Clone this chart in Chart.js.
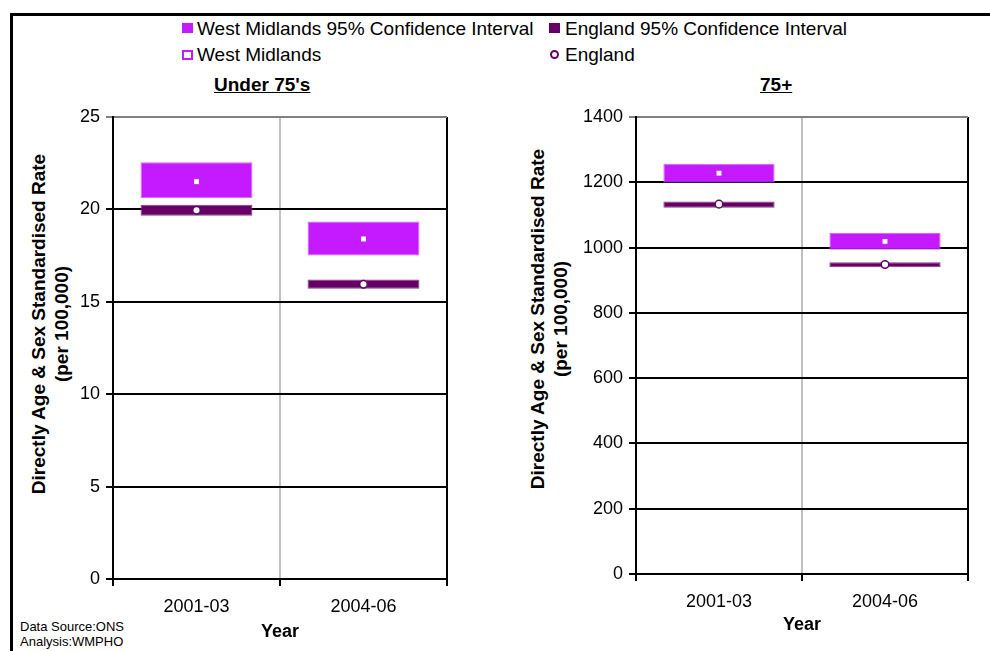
<!DOCTYPE html>
<html>
<head>
<meta charset="utf-8">
<script src="https://cdn.jsdelivr.net/npm/chart.js@4/dist/chart.umd.min.js"></script>
<style>
  html, body { margin: 0; padding: 0; background: #fff; }
  body { width: 990px; height: 651px; position: relative; overflow: hidden;
         font-family: "Liberation Sans", Arial, sans-serif; color: #000; }
  .frame { position: absolute; left: 10px; top: 13px; width: 990px; height: 660px;
           border-top: 3px solid #000; border-left: 3px solid #000; box-sizing: border-box; }
  .abs { position: absolute; white-space: nowrap; }
  .leg { font-size: 19px; line-height: 22px; }
  .sw { position: absolute; width: 11px; height: 10px; box-sizing: border-box; }
  .ttl { font-size: 19px; line-height: 22px; font-weight: bold; text-decoration: underline; }
  .ytitle { font-size: 19px; font-weight: bold; line-height: 23px; text-align: center;
            transform: translate(-50%, -50%) rotate(-90deg); }
  .src { font-size: 13px; line-height: 15px; }
  canvas { position: absolute; }
</style>
</head>
<body>
<div class="frame"></div>

<!-- legend -->
<div class="sw" style="left:182px;top:23px;background:#C51AFF;"></div>
<div class="abs leg" style="left:197px;top:18px;">West Midlands 95% Confidence Interval</div>
<div class="sw" style="left:549px;top:23px;background:#660066;"></div>
<div class="abs leg" style="left:565px;top:18px;">England 95% Confidence Interval</div>
<div class="sw" style="left:182px;top:50px;border:2px solid #C51AFF;background:#fff;"></div>
<div class="abs leg" style="left:197px;top:44px;">West Midlands</div>
<div class="sw" style="left:550px;top:50px;width:9px;height:9px;border:2px solid #660066;border-radius:50%;background:#fff;"></div>
<div class="abs leg" style="left:565px;top:44px;">England</div>

<!-- panel titles -->
<div class="abs ttl" style="left:214px;top:74px;">Under 75's</div>
<div class="abs ttl" style="left:760px;top:74px;">75+</div>

<!-- y axis titles -->
<div class="abs ytitle" style="left:50px;top:324px;">Directly Age &amp; Sex Standardised Rate<br>(per 100,000)</div>
<div class="abs ytitle" style="left:549px;top:319px;">Directly Age &amp; Sex Standardised Rate<br>(per 100,000)</div>

<div class="abs src" style="left:20px;top:619px;">Data Source:ONS<br>Analysis:WMPHO</div>

<canvas id="under75" width="460" height="545" style="left:14px;top:100px;width:460px;height:545px;"></canvas>
<canvas id="over75" width="480" height="538" style="left:510px;top:100px;width:480px;height:538px;"></canvas>

<script>
// Periods on the x axis
const periods = ['2001-03', '2004-06'];

// Under 75's: 95% confidence intervals [low, high] and rates
const wmCiUnder75 = [[20.6, 22.55], [17.5, 19.35]];
const wmRateUnder75 = [21.5, 18.4];
const engCiUnder75 = [[19.65, 20.25], [15.7, 16.2]];
const engRateUnder75 = [19.95, 15.95];

// 75+: 95% confidence intervals [low, high] and rates
const wmCiOver75 = [[1199, 1257], [993, 1045]];
const wmRateOver75 = [1228, 1019];
const engCiOver75 = [[1122, 1141], [940, 955]];
const engRateOver75 = [1133, 948];

// Y axis ticks
const ticksUnder75 = { min: 0, max: 25, step: 5 };
const ticksOver75 = { min: 0, max: 1400, step: 200 };

const WM = '#C51AFF', WM_EDGE = '#D466FF';
const ENG = '#660066', ENG_EDGE = '#8A3A8A';
const FONT = 'Liberation Sans, Arial, sans-serif';

function buildChart(id, ci1, rate1, ci2, rate2, yt, yWidth, xHeight, padRight) {
  const datasets = [
    { type: 'line', label: 'West Midlands', data: rate1, showLine: false,
      pointStyle: 'rect', pointRadius: 4.2, pointBackgroundColor: '#fff',
      pointBorderColor: WM, pointBorderWidth: 1, order: 1 },
    { type: 'line', label: 'England', data: rate2, showLine: false,
      pointStyle: 'circle', pointRadius: 3.8, pointBackgroundColor: '#fff',
      pointBorderColor: ENG, pointBorderWidth: 1.5, order: 1 },
    { type: 'bar', label: 'West Midlands 95% Confidence Interval', data: ci1,
      backgroundColor: WM, borderColor: WM_EDGE, borderWidth: 1, borderSkipped: false, order: 2 },
    { type: 'bar', label: 'England 95% Confidence Interval', data: ci2,
      backgroundColor: ENG, borderColor: ENG_EDGE, borderWidth: 1, borderSkipped: false, order: 2 }
  ];
  return new Chart(document.getElementById(id), {
    data: { labels: periods, datasets },
    options: {
      responsive: false,
      animation: false,
      events: [],
      layout: { padding: { left: 0, top: 17, right: padRight, bottom: 0 } },
      datasets: { bar: { grouped: false, categoryPercentage: 1, barPercentage: 0.67 } },
      plugins: { legend: { display: false }, tooltip: { enabled: false } },
      scales: {
        x: {
          type: 'category',
          offset: true,
          grid: {
            offset: true,
            color: c => (c.index === 1 ? '#C0C0C0' : '#000'),
            tickColor: '#000',
            lineWidth: 2,
            tickLength: 7
          },
          border: { color: '#000', width: 2 },
          ticks: { color: '#000', font: { family: FONT, size: 18 }, padding: 10, maxRotation: 0 },
          title: { display: true, text: 'Year', color: '#000',
                   font: { family: FONT, size: 18, weight: 'bold' }, padding: { top: 2, bottom: 2 } },
          afterFit: s => { s.height = xHeight; }
        },
        y: {
          min: yt.min, max: yt.max,
          grid: {
            color: c => (c.tick && c.tick.value === yt.max ? '#808080' : '#000'),
            lineWidth: 2,
            tickLength: 7
          },
          border: { color: '#000', width: 2 },
          ticks: { stepSize: yt.step, color: '#000', font: { family: FONT, size: 18 }, padding: 6,
                   callback: v => String(v) },
          afterFit: s => { s.width = yWidth; }
        }
      }
    }
  });
}

buildChart('under75', wmCiUnder75, wmRateUnder75, engCiUnder75, engRateUnder75, ticksUnder75, 99, 66, 27);
buildChart('over75', wmCiOver75, wmRateOver75, engCiOver75, engRateOver75, ticksOver75, 126, 64, 22);
</script>
</body>
</html>
